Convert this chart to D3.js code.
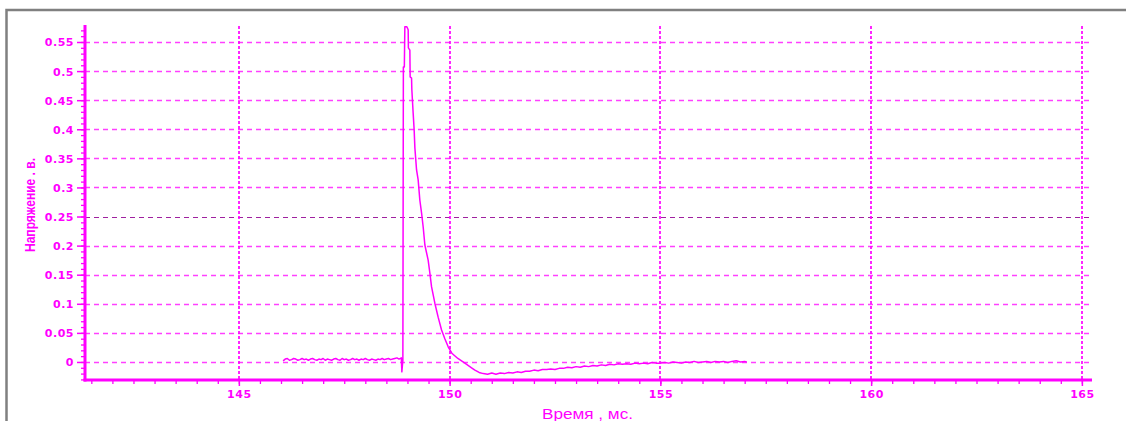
<!DOCTYPE html>
<html><head><meta charset="utf-8">
<script src="https://cdn.jsdelivr.net/npm/d3@7"></script>
<style>
html,body{margin:0;padding:0;background:#fff;}
svg{display:block;}
</style></head>
<body><svg id="c" width="1126" height="421"></svg>
<script>
// ---- data ----
const timeMs = [
 146.05,146.10,146.15,146.20,146.25,146.30,146.35,146.40,146.45,146.50,146.55,146.60,146.65,146.70,146.75,146.80,146.85,146.90,146.95,147.00,
 147.05,147.10,147.15,147.20,147.25,147.30,147.35,147.40,147.45,147.50,147.55,147.60,147.65,147.70,147.75,147.80,147.85,147.90,147.95,148.00,
 148.05,148.10,148.15,148.20,148.25,148.30,148.35,148.40,148.45,148.50,148.55,148.60,148.65,148.70,148.75,148.80,148.855,
 148.867,148.891,148.903,148.926,148.938,148.986,149.017,149.022,149.057,149.064,149.097,149.104,149.135,149.159,149.176,149.216,149.254,149.294,
 149.335,149.373,149.413,149.491,149.531,149.572,149.650,149.728,149.809,149.887,149.966,150.053,150.196,150.362,150.521,150.60,
 150.7,150.8,150.9,151.0,151.1,151.2,151.3,151.4,151.5,151.6,151.7,151.8,151.9,152.0,152.1,152.2,152.3,152.4,152.5,152.6,
 152.7,152.8,152.9,153.0,153.1,153.2,153.3,153.4,153.5,153.6,153.7,153.8,153.9,154.0,154.1,154.2,154.3,154.4,154.5,154.6,
 154.7,154.8,154.9,155.0,155.1,155.2,155.3,155.4,155.5,155.6,155.7,155.8,155.9,156.0,156.1,156.2,156.3,156.4,156.5,156.6,
 156.7,156.8,156.9,157.0,157.05
];
const voltage = [
 0.002,0.005,0.006,0.003,0.004,0.006,0.005,0.003,0.004,0.006,0.004,0.005,0.003,0.005,0.006,0.004,0.003,0.005,0.004,0.006,
 0.003,0.005,0.004,0.003,0.005,0.006,0.004,0.003,0.006,0.004,0.005,0.003,0.004,0.006,0.004,0.005,0.003,0.005,0.004,0.006,
 0.004,0.003,0.005,0.004,0.003,0.005,0.004,0.006,0.004,0.005,0.006,0.004,0.005,0.006,0.007,0.005,0.007,
 -0.017,0.003,0.507,0.507,0.576,0.576,0.571,0.540,0.536,0.490,0.488,0.468,0.428,0.399,0.368,0.330,0.313,0.278,
 0.256,0.232,0.201,0.175,0.153,0.129,0.101,0.077,0.055,0.040,0.026,0.015,0.006,-0.002,-0.010,-0.014,
 -0.018,-0.020,-0.021,-0.019,-0.021,-0.019,-0.020,-0.018,-0.019,-0.017,-0.018,-0.016,-0.016,-0.014,-0.015,-0.013,-0.013,-0.012,-0.013,-0.011,
 -0.011,-0.009,-0.010,-0.008,-0.009,-0.007,-0.008,-0.006,-0.007,-0.005,-0.006,-0.004,-0.005,-0.003,-0.004,-0.003,-0.004,-0.002,-0.003,-0.002,
 -0.003,-0.001,-0.002,-0.002,-0.001,-0.002,0.000,-0.001,-0.002,0.000,-0.001,0.001,-0.001,0.000,0.001,-0.001,0.001,0.000,0.001,-0.001,
 0.001,0.002,0.000,0.001,0.000
];
const xTicks = [145,150,155,160,165];
const yTicks = [0,0.05,0.1,0.15,0.2,0.25,0.3,0.35,0.4,0.45,0.5,0.55];
const xMinorStep = 0.5;
const yMinorStep = 0.01;
const xTitle = "Время , мс.";
const yTitle = "Напряжение . в.";

// ---- layout ----
const MAG = "#ff00ff";
const svg = d3.select("#c");
const L = 85, R = 1092, T = 26, B = 380;
const x = d3.scaleLinear().domain([141.35, 165.24]).range([L, R]);
const y = d3.scaleLinear().domain([-0.031, 0.5775]).range([B, T]);

svg.append("rect").attr("width",1126).attr("height",421).attr("fill","#fff");
// frame
svg.append("path").attr("d","M6.5,421 V10 H1126").attr("fill","none").attr("stroke","#808080").attr("stroke-width",2.5);

// horizontal grid
svg.append("g").selectAll("line").data(yTicks.filter(d=>d>=0)).join("line")
  .attr("x1",L).attr("x2",R-1)
  .attr("y1",d=>Math.round(y(d))+0.5).attr("y2",d=>Math.round(y(d))+0.5)
  .attr("stroke",d=>Math.abs(d-0.25)<1e-9 ? "#a020a0" : MAG)
  .attr("stroke-width",d=>Math.abs(d-0.25)<1e-9 ? 1.2 : 1.4)
  .attr("stroke-opacity",d=>Math.abs(d-0.25)<1e-9 ? 1 : 0.75)
  .attr("stroke-dasharray","5,4");
// vertical grid
svg.append("g").selectAll("line").data(xTicks).join("line")
  .attr("x1",d=>Math.round(x(d))).attr("x2",d=>Math.round(x(d)))
  .attr("y1",T).attr("y2",B)
  .attr("stroke",MAG).attr("stroke-width",2).attr("stroke-opacity",0.85)
  .attr("stroke-dasharray","3,2");

// signal
const pts = timeMs.map((t,i)=>[t, voltage[i]]);
svg.append("path").datum(pts)
  .attr("d", d3.line().x(d=>x(d[0])).y(d=>y(d[1])))
  .attr("fill","none").attr("stroke",MAG).attr("stroke-width",1.5).attr("stroke-linejoin","round");

// Y axis
const yMinor = d3.range(Math.ceil(-0.031/yMinorStep), Math.floor(0.5775/yMinorStep)+1).map(k=>k*yMinorStep);
const yAxMinor = d3.axisLeft(y).tickValues(yMinor).tickSize(4).tickFormat("");
const gy1 = svg.append("g").attr("transform",`translate(${L},0)`).call(yAxMinor);
gy1.select(".domain").remove();
gy1.selectAll("line").attr("stroke",MAG).attr("stroke-width",1.3);
const yAx = d3.axisLeft(y).tickValues(yTicks).tickSize(8).tickPadding(3).tickFormat(d=>d3.format("")(+d.toFixed(2)));
const gy = svg.append("g").attr("transform",`translate(${L},0)`).call(yAx);
gy.select(".domain").remove();
gy.selectAll("line").attr("stroke",MAG).attr("stroke-width",1.5);
gy.selectAll("text").attr("fill",MAG).attr("font-family","DejaVu Sans").attr("font-weight","bold")
  .attr("font-size",11).attr("letter-spacing","0.5px").attr("dy","0.36em");

// X axis
const xMinor = d3.range(Math.ceil(141.35/xMinorStep), Math.floor(165.24/xMinorStep)+1).map(k=>k*xMinorStep);
const gx1 = svg.append("g").attr("transform",`translate(0,${B})`).call(d3.axisBottom(x).tickValues(xMinor).tickSize(4).tickFormat(""));
gx1.select(".domain").remove();
gx1.selectAll("line").attr("stroke",MAG).attr("stroke-width",1.3);
const gx = svg.append("g").attr("transform",`translate(0,${B})`).call(d3.axisBottom(x).tickValues(xTicks).tickSize(6).tickPadding(4));
gx.select(".domain").remove();
gx.selectAll("line").attr("stroke",MAG).attr("stroke-width",1.5);
gx.selectAll("text").attr("fill",MAG).attr("font-family","DejaVu Sans").attr("font-weight","bold")
  .attr("font-size",11).attr("letter-spacing","0.5px");

// axis lines
svg.append("line").attr("x1",L).attr("x2",L).attr("y1",T-1).attr("y2",B+1.5).attr("stroke",MAG).attr("stroke-width",3);
svg.append("line").attr("x1",L-1.5).attr("x2",R).attr("y1",B).attr("y2",B).attr("stroke",MAG).attr("stroke-width",3);

// titles
svg.append("text").attr("x",587.5).attr("y",419).attr("text-anchor","middle")
  .attr("fill",MAG).attr("font-family","Liberation Sans, Arial, sans-serif").attr("font-size",14)
  .attr("textLength",91).attr("lengthAdjust","spacingAndGlyphs").text(xTitle);
svg.append("text").attr("transform","translate(35,205) rotate(-90)").attr("text-anchor","middle")
  .attr("fill",MAG).attr("font-family","Liberation Sans Narrow, Liberation Sans, Arial, sans-serif").attr("font-weight","bold").attr("font-size",14)
  .attr("textLength",94).attr("lengthAdjust","spacingAndGlyphs").text(yTitle);
</script></body></html>
